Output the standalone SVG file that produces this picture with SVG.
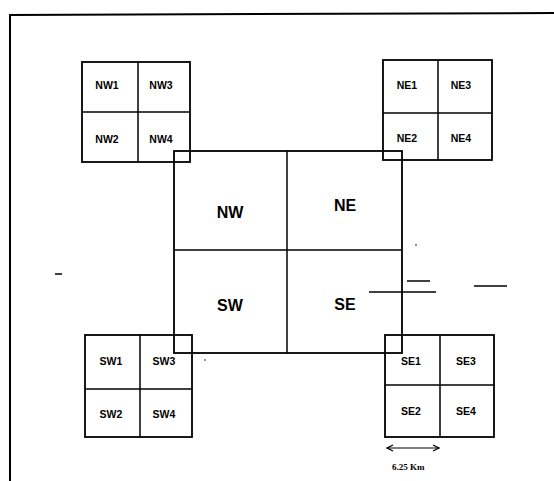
<svg xmlns="http://www.w3.org/2000/svg" width="554" height="481" viewBox="0 0 554 481">
<defs>
<style>
.b{fill:#fff;stroke:#000;stroke-width:1.8}
.l{stroke:#000;stroke-width:1.5;fill:none}
.s{font-family:"Liberation Sans",Arial,sans-serif;font-weight:bold;font-size:10.5px;text-anchor:middle;fill:#000}
.c{font-family:"Liberation Sans",Arial,sans-serif;font-weight:bold;font-size:16px;text-anchor:middle;fill:#000}
.m{stroke:#000;stroke-width:1.5}
</style>
<marker id="ah" viewBox="0 0 8 8" refX="7" refY="4" markerWidth="8" markerHeight="8" orient="auto-start-reverse" markerUnits="userSpaceOnUse">
<path d="M1,1 L7,4 L1,7" fill="none" stroke="#000" stroke-width="1.2"/>
</marker>
</defs>
<rect width="554" height="481" fill="#fff"/>
<g id="frame">
<line x1="9" y1="15" x2="554" y2="13" stroke="#000" stroke-width="2"/>
<line x1="10" y1="14" x2="10" y2="481" stroke="#000" stroke-width="2"/>
</g>
<g id="center">
<rect class="b" x="174" y="151" width="228" height="202" fill="none" style="fill:none"/>
<line class="l" x1="287" y1="151" x2="287" y2="353"/>
<line class="l" x1="174" y1="250" x2="402" y2="250"/>
<text class="c" x="230" y="218">NW</text>
<text class="c" x="345" y="211">NE</text>
<text class="c" x="230" y="311">SW</text>
<text class="c" x="345" y="310">SE</text>
</g>
<g id="nw">
<rect class="b" x="82" y="62" width="108" height="100" style="fill:none"/>
<line class="l" x1="138" y1="62" x2="138" y2="162"/>
<line class="l" x1="82" y1="112" x2="190" y2="112"/>
<text class="s" x="107" y="89">NW1</text>
<text class="s" x="161" y="89">NW3</text>
<text class="s" x="107" y="143">NW2</text>
<text class="s" x="161" y="143">NW4</text>
</g>
<g id="ne">
<rect class="b" x="383" y="60" width="109" height="100" style="fill:none"/>
<line class="l" x1="438" y1="60" x2="438" y2="160"/>
<line class="l" x1="383" y1="113" x2="492" y2="113"/>
<text class="s" x="407" y="89">NE1</text>
<text class="s" x="461" y="89">NE3</text>
<text class="s" x="407" y="142">NE2</text>
<text class="s" x="461" y="142">NE4</text>
</g>
<g id="sw">
<rect class="b" x="85" y="335" width="107" height="102" style="fill:none"/>
<line class="l" x1="140" y1="335" x2="140" y2="437"/>
<line class="l" x1="85" y1="389" x2="192" y2="389"/>
<text class="s" x="111" y="365">SW1</text>
<text class="s" x="164" y="365">SW3</text>
<text class="s" x="111" y="418">SW2</text>
<text class="s" x="164" y="418">SW4</text>
</g>
<g id="se">
<rect class="b" x="385" y="335" width="109" height="102" style="fill:none"/>
<line class="l" x1="440" y1="335" x2="440" y2="437"/>
<line class="l" x1="385" y1="385" x2="494" y2="385"/>
<text class="s" x="411" y="365">SE1</text>
<text class="s" x="466" y="365">SE3</text>
<text class="s" x="411" y="415">SE2</text>
<text class="s" x="466" y="415">SE4</text>
</g>
<g id="connectors">
<line x1="387" y1="448" x2="439" y2="448" stroke="#000" stroke-width="1.2" marker-start="url(#ah)" marker-end="url(#ah)"/>
</g>
<g id="scale-label">
<text x="392" y="470" font-family="'Liberation Serif','Times New Roman',serif" font-weight="bold" font-size="9">6.25 Km</text>
</g>
<g id="marks">
<line class="m" x1="55" y1="274" x2="62" y2="274" stroke-width="1.2"/>
<line class="m" x1="407" y1="281" x2="430" y2="281" stroke-width="1"/>
<line class="m" x1="369" y1="292" x2="436" y2="292"/>
<line class="m" x1="474" y1="286" x2="507" y2="286"/>
<circle cx="416" cy="245" r="0.8" fill="#000"/>
<circle cx="205" cy="360" r="0.8" fill="#000"/>
</g>
</svg>
